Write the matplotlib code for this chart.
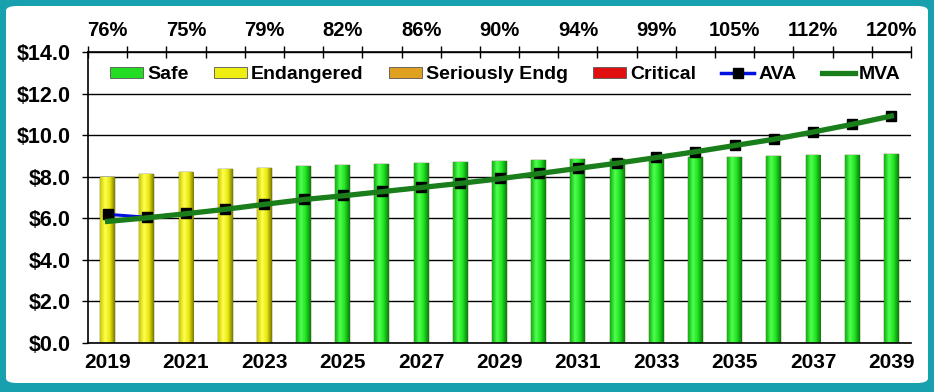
import numpy as np
import matplotlib
matplotlib.use("Agg")
from matplotlib import pyplot as plt
from matplotlib.patches import Patch, FancyBboxPatch
from matplotlib.lines import Line2D
from matplotlib.colors import LinearSegmentedColormap

years = list(range(2019, 2040))
bar_values = [8.00, 8.15, 8.25, 8.35, 8.40, 8.50, 8.55, 8.60, 8.65, 8.70, 8.75,
              8.80, 8.85, 8.87, 8.95, 8.95, 8.93, 9.00, 9.05, 9.05, 9.10]
status = ["Endangered"] * 5 + ["Safe"] * 16
ava = [6.19, 6.05, 6.24, 6.44, 6.68, 6.92, 7.10, 7.30, 7.50, 7.70, 7.92,
       8.16, 8.41, 8.66, 8.93, 9.21, 9.51, 9.81, 10.16, 10.53, 10.93]
mva = [5.85, 6.02, 6.22, 6.43, 6.67, 6.90, 7.08, 7.28, 7.48, 7.68, 7.90,
       8.15, 8.40, 8.65, 8.92, 9.20, 9.50, 9.80, 10.15, 10.52, 10.92]
top_labels = ["76%", "75%", "79%", "82%", "86%", "90%", "94%",
              "99%", "105%", "112%", "120%"]
y_ticks = [0, 2, 4, 6, 8, 10, 12, 14]

status_colors = {"Safe": "#22dd22", "Endangered": "#eeee10",
                 "Seriously Endg": "#e0a020", "Critical": "#e01010"}
gradients = {
    "Safe": ["#10b010", "#50ff50", "#20e020", "#0a7a0a"],
    "Endangered": ["#c8c800", "#ffff50", "#e8e810", "#7a7a00"],
}

plt.rcParams["font.family"] = ["Liberation Sans", "DejaVu Sans"]
plt.rcParams["font.weight"] = "bold"

fig = plt.figure(figsize=(9.34, 3.92), dpi=100)
fig.patch.set_facecolor("#18a0ae")
frame = FancyBboxPatch((6 / 934, 9 / 392), 922 / 934, 377 / 392,
                       boxstyle="round,pad=0,rounding_size=0.012",
                       transform=fig.transFigure, facecolor="white",
                       edgecolor="none", zorder=-10)
fig.patches.append(frame)

ax = fig.add_axes([88 / 934, 1 - 343 / 392, 823 / 934, 291 / 392])
ax.set_facecolor("none")
x = np.arange(len(years))

bars = ax.bar(x, bar_values, width=0.38,
              color=[status_colors[s] for s in status],
              edgecolor="#404000", linewidth=0.3, zorder=2)

# shaded cylinder look
for b, s in zip(bars, status):
    cmap = LinearSegmentedColormap.from_list(s, gradients[s])
    grad = np.linspace(0, 1, 64).reshape(1, -1)
    x0, w, h = b.get_x(), b.get_width(), b.get_height()
    im = ax.imshow(grad, cmap=cmap, aspect="auto",
                   extent=(x0, x0 + w, 0, h), zorder=2.1)
    im.set_clip_path(b)
ax.set_xlim(-0.5, len(years) - 0.5)
ax.set_ylim(0, 14)

ax.plot(x, ava, color="#0010e0", lw=2.2, marker="s", ms=6.5,
        mfc="black", mec="black", zorder=3)
ax.plot(x, mva, color="#1a7f1a", lw=3.8, zorder=4)

ax.set_yticks(y_ticks)
ax.set_yticklabels([f"${v:.1f}" for v in y_ticks])
ax.yaxis.grid(True, color="black", lw=1.0, zorder=0)
ax.set_axisbelow(True)
ax.tick_params(axis="y", direction="out", length=4.5, width=1,
               pad=8, labelsize=15.5)
ax.set_xticks(x[::2])
ax.set_xticklabels([str(y) for y in years[::2]])
ax.tick_params(axis="x", length=0, pad=7, labelsize=15)
for s in ["top", "right"]:
    ax.spines[s].set_visible(False)
for s in ["left", "bottom"]:
    ax.spines[s].set_linewidth(1.2)

top = ax.twiny()
top.set_xlim(ax.get_xlim())
top.set_xticks(np.arange(-0.5, len(years), 1.0))
top.set_xticklabels([])
top.tick_params(axis="x", direction="inout", length=8, width=1)
top.set_xticks(x[::2], minor=True)
top.set_xticklabels(top_labels, minor=True)
top.tick_params(axis="x", which="minor", length=0, pad=9, labelsize=14.5)
for s in ["left", "right", "bottom"]:
    top.spines[s].set_visible(False)
top.spines["top"].set_linewidth(1.2)

handles = [Patch(facecolor=status_colors[k], edgecolor="#555555", lw=0.6)
           for k in ["Safe", "Endangered", "Seriously Endg", "Critical"]]
handles += [Line2D([], [], color="#0010e0", lw=2.5, marker="s", ms=7,
                   mfc="black", mec="black"),
            Line2D([], [], color="#1a7f1a", lw=3.8)]
labels = ["Safe", "Endangered", "Seriously Endg", "Critical", "AVA", "MVA"]
ax.legend(handles, labels, loc="center", bbox_to_anchor=(0.507, 0.922),
          ncol=6, frameon=False, fontsize=14, handlelength=1.7,
          handleheight=0.5, handletextpad=0.2, columnspacing=1.3)

fig.savefig("out.png", dpi=100, facecolor=fig.get_facecolor())
